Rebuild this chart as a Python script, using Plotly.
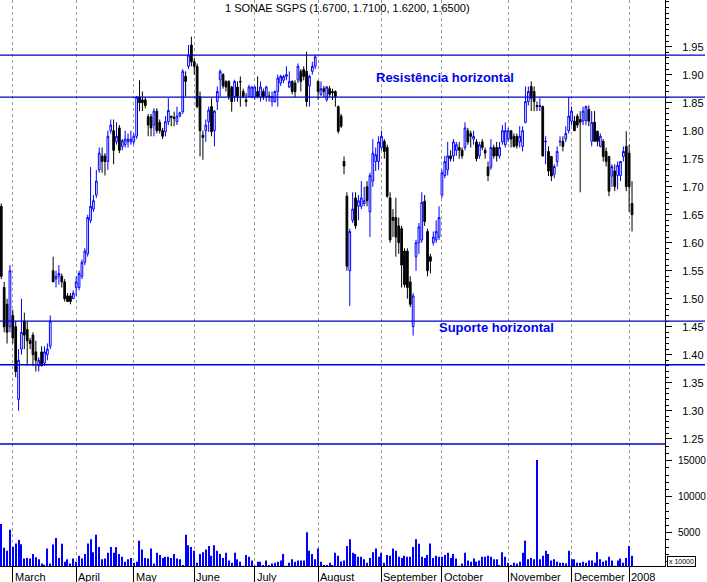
import plotly.graph_objects as go
from plotly.subplots import make_subplots

# ---------------- data ----------------
opens = [1.665,1.52,1.49,1.45,1.47,1.45,1.32,1.41,1.46,1.445,1.425,1.435,1.405,1.38,1.405,1.385,1.40,1.415,1.55,1.535,
         1.54,1.54,1.53,1.505,1.505,1.50,1.52,1.52,1.54,1.565,1.58,1.64,1.66,1.685,1.73,1.755,1.755,1.745,1.80,1.80,
         1.78,1.805,1.772,1.775,1.78,1.78,1.78,1.79,1.86,1.855,1.855,1.825,1.825,1.81,1.835,1.815,1.80,1.798,1.816,1.826,
         1.824,1.816,1.826,1.834,1.897,1.915,1.953,1.923,1.915,1.861,1.792,1.80,1.816,1.843,1.80,1.852,1.891,1.90,1.888,1.888,
         1.878,1.861,1.878,1.888,1.87,1.855,1.861,1.861,1.861,1.87,1.861,1.87,1.861,1.862,1.852,1.852,1.87,1.885,1.89,1.897,
         1.878,1.888,1.885,1.891,1.906,1.909,1.906,1.88,1.906,1.915,1.888,1.865,1.875,1.855,1.875,1.87,1.87,1.843,1.826,1.745,
         1.683,1.55,1.64,1.68,1.665,1.665,1.67,1.70,1.655,1.71,1.745,1.745,1.77,1.781,1.77,1.68,1.645,1.645,1.63,1.625,
         1.585,1.585,1.53,1.45,1.575,1.60,1.605,1.674,1.62,1.575,1.60,1.605,1.61,1.685,1.72,1.73,1.755,1.755,1.765,1.77,
         1.765,1.77,1.80,1.795,1.785,1.78,1.755,1.78,1.765,1.735,1.735,1.77,1.77,1.755,1.78,1.775,1.785,1.80,1.79,1.79,
         1.78,1.772,1.815,1.852,1.879,1.87,1.845,1.843,1.843,1.78,1.763,1.754,1.722,1.745,1.78,1.781,1.785,1.80,1.817,1.817,
         1.826,1.82,1.817,1.818,1.838,1.781,1.815,1.799,1.772,1.781,1.763,1.754,1.719,1.728,1.72,1.72,1.754,1.772,1.76,1.67]
highs = [1.67,1.53,1.50,1.56,1.48,1.46,1.41,1.50,1.475,1.46,1.43,1.44,1.425,1.395,1.415,1.415,1.42,1.47,1.575,1.55,
         1.56,1.545,1.535,1.51,1.51,1.515,1.54,1.55,1.57,1.59,1.65,1.735,1.685,1.73,1.77,1.77,1.76,1.80,1.82,1.82,
         1.815,1.81,1.785,1.80,1.795,1.80,1.795,1.862,1.89,1.87,1.86,1.83,1.83,1.84,1.84,1.82,1.805,1.826,1.858,1.826,
         1.834,1.843,1.834,1.91,1.906,1.953,1.968,1.93,1.92,1.87,1.80,1.82,1.843,1.858,1.837,1.879,1.909,1.903,1.89,1.89,
         1.88,1.891,1.888,1.897,1.875,1.867,1.882,1.88,1.88,1.897,1.888,1.875,1.88,1.87,1.87,1.872,1.90,1.90,1.90,1.915,
         1.906,1.89,1.89,1.92,1.91,1.915,1.941,1.90,1.923,1.935,1.89,1.888,1.88,1.88,1.88,1.875,1.872,1.845,1.83,1.754,
         1.69,1.625,1.69,1.69,1.685,1.71,1.70,1.71,1.725,1.785,1.77,1.79,1.80,1.785,1.775,1.69,1.66,1.68,1.645,1.63,
         1.59,1.59,1.54,1.51,1.605,1.635,1.69,1.685,1.625,1.58,1.62,1.64,1.665,1.73,1.755,1.78,1.765,1.785,1.78,1.78,
         1.77,1.815,1.805,1.80,1.80,1.785,1.78,1.785,1.77,1.745,1.785,1.775,1.78,1.78,1.81,1.815,1.805,1.80,1.795,1.795,
         1.808,1.808,1.879,1.879,1.888,1.879,1.852,1.858,1.845,1.79,1.772,1.754,1.74,1.772,1.79,1.79,1.808,1.86,1.843,1.826,
         1.83,1.835,1.843,1.845,1.845,1.835,1.835,1.80,1.795,1.785,1.77,1.755,1.74,1.74,1.745,1.745,1.772,1.799,1.775,1.71]
lows = [1.535,1.44,1.42,1.44,1.42,1.36,1.30,1.40,1.41,1.38,1.41,1.38,1.37,1.37,1.38,1.38,1.39,1.41,1.53,1.52,
        1.525,1.52,1.495,1.495,1.49,1.50,1.505,1.515,1.535,1.56,1.575,1.635,1.655,1.68,1.725,1.725,1.72,1.73,1.795,1.74,
        1.775,1.76,1.765,1.77,1.77,1.775,1.775,1.785,1.835,1.835,1.84,1.79,1.79,1.79,1.795,1.795,1.785,1.79,1.81,1.808,
        1.808,1.81,1.824,1.83,1.861,1.91,1.915,1.90,1.84,1.754,1.748,1.78,1.798,1.79,1.772,1.837,1.861,1.875,1.87,1.855,
        1.834,1.852,1.852,1.843,1.858,1.843,1.861,1.858,1.855,1.858,1.852,1.855,1.852,1.852,1.843,1.85,1.843,1.88,1.885,1.89,
        1.876,1.865,1.86,1.885,1.87,1.89,1.843,1.843,1.90,1.91,1.855,1.862,1.86,1.852,1.86,1.855,1.843,1.795,1.805,1.722,
        1.55,1.487,1.635,1.625,1.64,1.66,1.665,1.665,1.61,1.70,1.728,1.73,1.765,1.75,1.68,1.60,1.61,1.575,1.58,1.52,
        1.52,1.50,1.485,1.434,1.55,1.58,1.60,1.63,1.54,1.545,1.595,1.60,1.605,1.68,1.715,1.72,1.745,1.745,1.755,1.75,
        1.75,1.765,1.775,1.77,1.775,1.745,1.75,1.765,1.75,1.71,1.73,1.75,1.745,1.75,1.775,1.77,1.78,1.77,1.77,1.768,
        1.77,1.763,1.813,1.845,1.835,1.835,1.835,1.835,1.754,1.74,1.719,1.71,1.715,1.736,1.772,1.763,1.78,1.795,1.81,1.80,
        1.805,1.69,1.81,1.81,1.808,1.772,1.781,1.772,1.77,1.745,1.736,1.683,1.70,1.692,1.695,1.71,1.745,1.692,1.655,1.62]
closes = [1.54,1.45,1.44,1.55,1.43,1.37,1.39,1.44,1.435,1.425,1.42,1.40,1.39,1.39,1.38,1.405,1.41,1.46,1.53,1.54,
          1.545,1.53,1.50,1.495,1.495,1.51,1.53,1.545,1.565,1.585,1.645,1.665,1.675,1.71,1.76,1.745,1.745,1.79,1.81,1.765,
          1.79,1.765,1.782,1.785,1.785,1.785,1.79,1.86,1.85,1.85,1.845,1.81,1.805,1.835,1.80,1.80,1.79,1.816,1.836,1.824,
          1.822,1.826,1.832,1.906,1.888,1.935,1.923,1.915,1.843,1.80,1.788,1.81,1.837,1.798,1.835,1.87,1.906,1.88,1.878,1.861,
          1.852,1.888,1.861,1.887,1.861,1.852,1.878,1.878,1.878,1.861,1.878,1.861,1.878,1.861,1.861,1.87,1.894,1.897,1.897,1.90,
          1.888,1.87,1.87,1.915,1.888,1.897,1.852,1.897,1.915,1.932,1.87,1.875,1.87,1.878,1.865,1.868,1.861,1.799,1.808,1.737,
          1.558,1.62,1.66,1.63,1.675,1.68,1.675,1.675,1.72,1.76,1.757,1.78,1.79,1.763,1.683,1.605,1.64,1.61,1.60,1.56,
          1.525,1.52,1.49,1.505,1.60,1.628,1.672,1.638,1.55,1.567,1.61,1.62,1.645,1.725,1.745,1.755,1.75,1.78,1.775,1.765,
          1.755,1.805,1.78,1.79,1.79,1.75,1.775,1.77,1.76,1.72,1.77,1.755,1.755,1.77,1.80,1.80,1.80,1.785,1.772,1.773,
          1.79,1.80,1.852,1.87,1.858,1.852,1.843,1.845,1.755,1.781,1.728,1.719,1.736,1.763,1.781,1.772,1.795,1.826,1.835,1.80,
          1.81,1.815,1.835,1.843,1.817,1.815,1.781,1.781,1.79,1.754,1.745,1.692,1.736,1.70,1.738,1.745,1.763,1.70,1.70,1.65]
volumes = [6200,2900,2500,5400,3050,3500,4000,3400,1400,1500,1400,2050,1600,1300,720,550,2800,720,3350,4250,
           1500,3450,970,1300,720,1400,970,1800,1400,2050,3500,4100,2300,4700,3000,1300,1400,2200,3000,2200,
           3000,2050,1650,970,1300,1500,830,970,3900,2650,1500,1400,2800,720,2200,1900,1500,1650,1650,1500,
           2050,1400,1300,510,4700,3250,3000,2500,830,2050,2300,2650,3150,1800,3250,2500,2050,1500,2200,1150,
           830,2200,1300,970,400,1900,1650,1150,400,970,970,510,1150,510,720,830,970,1150,2050,400,
           830,1300,970,1150,1150,1150,5050,2500,2050,1300,2800,970,510,510,830,510,2200,1800,1000,1150,
           3150,4100,2200,2050,1650,1650,1300,830,1500,2300,2800,1650,2200,830,1900,1800,2800,2500,1650,1500,
           1800,1650,1650,3000,4100,3450,1650,1500,1900,3500,1500,1800,1650,1650,1900,2200,1500,2050,1400,400,
           720,2200,1150,970,1400,970,1150,1650,1650,1800,1650,1300,1300,510,2300,1650,830,510,830,720,
           970,2200,3900,1300,1500,1300,15100,1300,1800,2500,2050,1150,1300,970,830,830,720,2500,1300,1300,
           830,830,970,830,1150,1150,830,2300,1300,970,1150,1650,1150,400,1150,1400,830,1500,3150,1800]

month_labels = ["March", "April", "May", "June", "July", "August", "September",
                "October", "November", "December", "2008"]
month_start_idx = [4, 26, 46, 67, 88, 110, 132, 153, 176, 198, 218]

levels = [1.935, 1.860, 1.460, 1.382]          # horizontal resistance / support lines
price_ticks = [1.25, 1.30, 1.35, 1.40, 1.45, 1.50, 1.55, 1.60, 1.65, 1.70, 1.75, 1.80, 1.85, 1.90, 1.95]
volume_ticks = [5000, 10000, 15000]
title_text = "1 SONAE SGPS (1.6700, 1.7100, 1.6200, 1.6500)"

days = list(range(len(closes)))

# ---------------- figure ----------------
BLUE = "#0000FF"
LINE_BLUE = "#0000CC"
FONT = "Liberation Sans, Arial, sans-serif"

fig = make_subplots(rows=2, cols=1, shared_xaxes=True, vertical_spacing=0,
                    row_heights=[444, 122])

fig.add_trace(go.Candlestick(
    x=days, open=opens, high=highs, low=lows, close=closes,
    increasing=dict(line=dict(color=BLUE, width=1), fillcolor="white"),
    decreasing=dict(line=dict(color="black", width=1), fillcolor="black"),
    whiskerwidth=0, hoverinfo="skip", showlegend=False), row=1, col=1)

fig.add_trace(go.Bar(
    x=days, y=volumes, width=0.38, marker=dict(color=BLUE, line=dict(width=0)),
    hoverinfo="skip", showlegend=False), row=2, col=1)

W, H = 707, 582
L, R, T, B = 0, 42, 0, 16
plot_w = W - L - R
plot_h = H - T - B

grid = dict(showgrid=True, gridcolor="#9a9a9a", griddash="3px,3px", gridwidth=1,
            tickmode="array", tickvals=month_start_idx, range=[-0.45, 230.45],
            zeroline=False, rangeslider=dict(visible=False))
fig.update_xaxes(**grid)
fig.update_xaxes(showticklabels=False, ticks="", row=1, col=1)
fig.update_xaxes(showticklabels=False, ticks="outside", ticklen=16, tickcolor="black",
                 tickwidth=1, showline=True, linecolor="black", linewidth=1, row=2, col=1)

fig.update_yaxes(side="right", range=[1.2405, 2.0334], tickmode="array", tickvals=price_ticks,
                 tickformat=".2f", ticks="outside", ticklen=6, tickcolor="black",
                 showline=True, linecolor="black", linewidth=1, showgrid=False, zeroline=False,
                 ticklabelstandoff=8, automargin=False,
                 minor=dict(dtick=0.01, ticks="outside", ticklen=3, tickcolor="black", showgrid=False),
                 tickfont=dict(family=FONT, size=11, color="black"), row=1, col=1)
fig.update_yaxes(side="right", range=[375, 17320], tickmode="array", tickvals=volume_ticks,
                 tickformat="d", ticks="outside", ticklen=6, tickcolor="black",
                 showline=True, linecolor="black", linewidth=1, showgrid=False, zeroline=False,
                 ticklabelstandoff=4, automargin=False,
                 minor=dict(dtick=1000, ticks="outside", ticklen=3, tickcolor="black", showgrid=False),
                 tickfont=dict(family=FONT, size=10, color="black"), row=2, col=1)

shapes = []
for lv in levels:
    shapes.append(dict(type="line", xref="paper", yref="y", x0=0, x1=705 / plot_w, y0=lv, y1=lv,
                       line=dict(color=LINE_BLUE, width=1.3), layer="above"))
shapes.append(dict(type="line", xref="paper", yref="paper", x0=0, x1=1,
                   y0=122 / plot_h, y1=122 / plot_h, line=dict(color=LINE_BLUE, width=1.5)))

annotations = []
for idx, lab in zip(month_start_idx, month_labels):
    annotations.append(dict(x=idx, y=-11 / plot_h, xref="x2", yref="paper", text=lab,
                            showarrow=False, xanchor="left", yanchor="middle",
                            font=dict(family=FONT, size=11, color="black")))
annotations.append(dict(x=347 / plot_w, y=1 - 8 / plot_h, xref="paper", yref="paper",
                        text=title_text, showarrow=False, xanchor="center", yanchor="middle",
                        font=dict(family=FONT, size=11, color="black")))
annotations.append(dict(x=445 / plot_w, y=1 - 78 / plot_h, xref="paper", yref="paper",
                        text="<b>Resistência horizontal</b>", showarrow=False,
                        xanchor="center", yanchor="middle",
                        font=dict(family=FONT, size=13, color="#0000EE")))
annotations.append(dict(x=496 / plot_w, y=1 - 327 / plot_h, xref="paper", yref="paper",
                        text="<b>Suporte horizontal</b>", showarrow=False,
                        xanchor="center", yanchor="middle",
                        font=dict(family=FONT, size=13, color="#0000EE")))
annotations.append(dict(x=681 / plot_w, y=1 - 561 / plot_h, xref="paper", yref="paper",
                        text="x 10000", showarrow=False, xanchor="center", yanchor="middle",
                        bordercolor="black", borderwidth=1, borderpad=1, bgcolor="white",
                        font=dict(family=FONT, size=7, color="black")))

fig.update_layout(width=W, height=H, margin=dict(l=L, r=R, t=T, b=B, autoexpand=False),
                  paper_bgcolor="white", plot_bgcolor="white",
                  shapes=shapes, annotations=annotations, showlegend=False,
                  boxgap=0.15, font=dict(family=FONT))

fig.write_html("out.html", config={"displayModeBar": False},
               post_script="document.body.style.margin='0px';document.body.style.padding='0px';")
